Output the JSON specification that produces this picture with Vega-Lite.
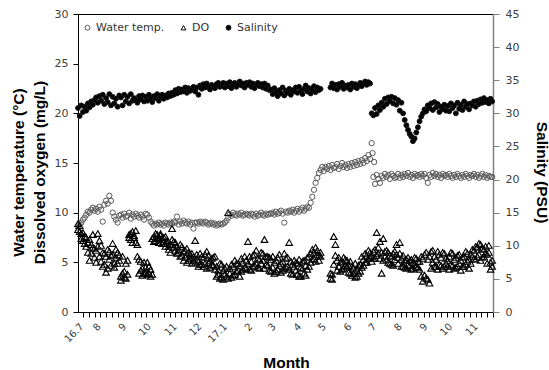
{
  "$schema": "https://vega.github.io/schema/vega-lite/v6.json",
  "width": 415,
  "height": 298,
  "autosize": {"type": "none"},
  "padding": {"left": 78, "top": 14, "right": 56, "bottom": 58},
  "config": {
    "font": "DejaVu Sans",
    "view": {"stroke": null},
    "axis": {"grid": false, "labelFont": "DejaVu Sans", "labelColor": "#404040", "titleFont": "Liberation Sans", "titleFontWeight": "bold", "titleFontSize": 15.5, "titleColor": "#000000"},
    "legend": {"orient": "none", "legendX": 4, "legendY": 8, "direction": "horizontal", "title": null, "labelFont": "DejaVu Sans", "labelFontSize": 11, "labelColor": "#333333", "symbolSize": 24, "symbolStrokeWidth": 1, "labelOffset": 3, "columnPadding": 13, "symbolOpacity": 1}
  },
  "data": {"values": [
    {"d":"2016-07-11","t":8.5,"o":8.3,"p":8.9,"s":30.8},{"d":"2016-07-13","t":8.8,"o":8.7,"p":8.1,"s":29.6},{"d":"2016-07-15","t":9.0,"o":7.9,"p":7.4,"s":31.2},{"d":"2016-07-17","t":9.3,"o":7.2,"p":8.0,"s":30.2},{"d":"2016-07-19","t":9.5,"o":7.6,"p":6.9,"s":31.0},{"d":"2016-07-21","t":9.8,"o":6.6,"p":7.5,"s":30.4},{"d":"2016-07-23","t":10.1,"o":7.0,"p":6.0,"s":31.5},{"d":"2016-07-25","t":10.0,"o":5.2,"p":7.3,"s":30.9},{"d":"2016-07-27","t":10.3,"o":6.8,"p":5.9,"s":31.8},{"d":"2016-07-29","t":10.5,"o":7.8,"p":6.5,"s":31.3},{"d":"2016-07-31","t":10.2,"o":6.4,"p":5.5,"s":32.0},
    {"d":"2016-08-02","t":10.4,"o":6.2,"p":5.0,"s":32.4},{"d":"2016-08-04","t":10.1,"o":7.9,"p":6.6,"s":31.6},{"d":"2016-08-06","t":10.6,"o":5.6,"p":7.2,"s":32.6},{"d":"2016-08-08","t":10.3,"o":6.7,"p":5.1,"s":31.9},{"d":"2016-08-10","t":9.1,"o":4.6,"p":6.0,"s":32.8},{"d":"2016-08-12","t":10.8,"o":5.9,"p":4.8,"s":31.4},{"d":"2016-08-14","t":11.2,"o":4.0,"p":5.6,"s":32.3},{"d":"2016-08-16","t":10.9,"o":6.3,"p":4.4,"s":31.7},{"d":"2016-08-18","t":11.7,"o":5.3,"p":6.1,"s":32.9},{"d":"2016-08-20","t":11.2,"o":5.7,"p":4.7,"s":31.2},{"d":"2016-08-22","t":10.0,"o":6.9,"p":5.8,"s":32.5},{"d":"2016-08-24","t":9.6,"o":4.9,"p":4.5,"s":31.5},{"d":"2016-08-26","t":9.3,"o":5.5,"p":6.3,"s":32.2},{"d":"2016-08-28","t":9.0,"o":6.0,"p":4.9,"s":31.0},{"d":"2016-08-30","t":9.7,"o":5.2,"p":5.7,"s":32.7},
    {"d":"2016-09-01","t":9.8,"o":3.2,"p":3.6,"s":32.4},{"d":"2016-09-03","t":9.5,"o":5.6,"p":3.9,"s":31.2},{"d":"2016-09-05","t":9.9,"o":3.5,"p":4.1,"s":32.8},{"d":"2016-09-07","t":9.6,"o":4.9,"p":3.4,"s":31.8},{"d":"2016-09-09","t":9.7,"o":3.8,"p":5.2,"s":32.5},{"d":"2016-09-11","t":10.0,"o":7.8,"p":7.5,"s":31.5},{"d":"2016-09-13","t":9.4,"o":7.3,"p":7.9,"s":32.9},{"d":"2016-09-15","t":9.8,"o":8.1,"p":7.0,"s":31.9},{"d":"2016-09-17","t":9.6,"o":7.5,"p":7.7,"s":32.3},{"d":"2016-09-19","t":9.9,"o":7.0,"p":8.2,"s":32.0},{"d":"2016-09-21","t":9.7,"o":6.8,"p":5.6,"s":31.6},{"d":"2016-09-23","t":9.5,"o":5.3,"p":3.9,"s":32.6},{"d":"2016-09-25","t":9.8,"o":4.2,"p":5.1,"s":32.1},{"d":"2016-09-27","t":9.6,"o":3.7,"p":4.4,"s":32.7},{"d":"2016-09-29","t":9.3,"o":5.0,"p":3.9,"s":31.8},
    {"d":"2016-10-01","t":9.9,"o":4.0,"p":4.5,"s":32.5},{"d":"2016-10-03","t":9.8,"o":3.8,"p":5.0,"s":31.9},{"d":"2016-10-05","t":9.5,"o":4.6,"p":3.9,"s":32.8},{"d":"2016-10-07","t":9.1,"o":3.6,"p":4.3,"s":32.2},{"d":"2016-10-09","t":8.9,"o":7.4,"p":3.8,"s":31.7},{"d":"2016-10-11","t":8.7,"o":7.6,"p":7.1,"s":32.6},{"d":"2016-10-13","t":8.9,"o":7.2,"p":7.9,"s":32.3},{"d":"2016-10-15","t":8.8,"o":7.8,"p":7.4,"s":32.9},{"d":"2016-10-17","t":9.0,"o":7.5,"p":7.0,"s":31.9},{"d":"2016-10-19","t":8.8,"o":7.9,"p":7.7,"s":32.5},{"d":"2016-10-21","t":8.9,"o":7.3,"p":6.9,"s":32.8},{"d":"2016-10-23","t":8.7,"o":7.1,"p":7.5,"s":32.2},{"d":"2016-10-25","t":9.0,"o":7.6,"p":6.6,"s":32.7},{"d":"2016-10-27","t":8.9,"o":6.9,"p":7.2,"s":32.4},{"d":"2016-10-29","t":8.8,"o":6.6,"p":6.3,"s":33.0},{"d":"2016-10-31","t":9.0,"o":6.8,"p":6.0,"s":32.6},
    {"d":"2016-11-02","t":8.9,"o":8.4,"p":7.3,"s":33.1},{"d":"2016-11-04","t":9.1,"o":6.5,"p":7.1,"s":32.8},{"d":"2016-11-06","t":9.0,"o":7.0,"p":6.2,"s":33.5},{"d":"2016-11-08","t":9.6,"o":5.9,"p":6.6,"s":33.0},{"d":"2016-11-10","t":8.8,"o":6.3,"p":6.0,"s":33.7},{"d":"2016-11-12","t":9.1,"o":6.8,"p":5.6,"s":33.2},{"d":"2016-11-14","t":8.9,"o":5.7,"p":6.6,"s":33.6},{"d":"2016-11-16","t":9.2,"o":6.1,"p":5.2,"s":33.3},{"d":"2016-11-18","t":9.0,"o":5.5,"p":6.2,"s":33.9},{"d":"2016-11-20","t":8.9,"o":6.4,"p":5.0,"s":33.1},{"d":"2016-11-22","t":9.1,"o":5.2,"p":6.0,"s":33.8},{"d":"2016-11-24","t":8.8,"o":5.8,"p":5.4,"s":33.4},{"d":"2016-11-26","t":9.0,"o":4.9,"p":5.9,"s":33.6},{"d":"2016-11-28","t":8.4,"o":5.6,"p":5.2,"s":34.0},{"d":"2016-11-30","t":9.0,"o":7.2,"p":5.0,"s":33.3},
    {"d":"2016-12-02","t":9.0,"o":5.3,"p":5.8,"s":33.9},{"d":"2016-12-04","t":8.9,"o":4.6,"p":5.1,"s":32.8},{"d":"2016-12-06","t":9.1,"o":5.9,"p":4.8,"s":34.2},{"d":"2016-12-08","t":9.0,"o":4.8,"p":5.6,"s":33.7},{"d":"2016-12-10","t":8.9,"o":5.5,"p":4.6,"s":34.4},{"d":"2016-12-12","t":9.1,"o":4.9,"p":5.8,"s":33.9},{"d":"2016-12-14","t":9.0,"o":6.1,"p":4.4,"s":34.5},{"d":"2016-12-16","t":8.8,"o":5.0,"p":5.7,"s":34.0},{"d":"2016-12-18","t":8.9,"o":4.5,"p":5.2,"s":33.6},{"d":"2016-12-20","t":9.0,"o":5.4,"p":4.8,"s":34.3},{"d":"2016-12-22","t":8.8,"o":4.7,"p":5.5,"s":34.1},{"d":"2016-12-24","t":8.9,"o":5.6,"p":4.3,"s":33.8},{"d":"2016-12-26","t":8.7,"o":3.6,"p":4.6,"s":34.4},{"d":"2016-12-28","t":8.8,"o":4.2,"p":3.8,"s":34.6},{"d":"2016-12-30","t":8.9,"o":3.4,"p":4.9,"s":34.0},
    {"d":"2017-01-01","t":8.8,"o":4.8,"p":3.5,"s":34.2},{"d":"2017-01-03","t":8.9,"o":3.3,"p":4.2,"s":34.6},{"d":"2017-01-05","t":9.0,"o":4.4,"p":3.8,"s":33.9},{"d":"2017-01-07","t":9.2,"o":3.6,"p":4.6,"s":34.5},{"d":"2017-01-09","t":9.5,"o":10.0,"p":3.4,"s":34.1},{"d":"2017-01-11","t":9.8,"o":3.9,"p":4.4,"s":34.7},{"d":"2017-01-13","t":9.7,"o":3.5,"p":4.8,"s":33.8},{"d":"2017-01-15","t":10.0,"o":4.6,"p":3.7,"s":34.3},{"d":"2017-01-17","t":9.8,"o":3.8,"p":5.2,"s":34.6},{"d":"2017-01-19","t":9.7,"o":4.9,"p":4.1,"s":34.0},{"d":"2017-01-21","t":9.9,"o":4.2,"p":4.9,"s":34.4},{"d":"2017-01-23","t":9.8,"o":4.7,"p":3.6,"s":34.8},{"d":"2017-01-25","t":10.0,"o":4.1,"p":5.4,"s":34.2},{"d":"2017-01-27","t":9.7,"o":5.0,"p":4.3,"s":34.5},{"d":"2017-01-29","t":9.8,"o":4.5,"p":5.6,"s":33.9},{"d":"2017-01-31","t":9.9,"o":5.2,"p":4.4,"s":34.6},
    {"d":"2017-02-02","t":9.8,"o":7.1,"p":4.9,"s":34.3},{"d":"2017-02-04","t":9.7,"o":4.3,"p":5.6,"s":34.7},{"d":"2017-02-06","t":9.9,"o":5.1,"p":4.2,"s":34.0},{"d":"2017-02-08","t":9.8,"o":4.6,"p":5.7,"s":34.5},{"d":"2017-02-10","t":9.6,"o":5.8,"p":4.7,"s":33.8},{"d":"2017-02-12","t":9.9,"o":4.9,"p":6.2,"s":34.3},{"d":"2017-02-14","t":9.7,"o":5.4,"p":4.5,"s":34.6},{"d":"2017-02-16","t":9.8,"o":4.4,"p":5.3,"s":34.1},{"d":"2017-02-18","t":10.0,"o":6.0,"p":4.9,"s":34.4},{"d":"2017-02-20","t":9.8,"o":5.2,"p":5.9,"s":33.9},{"d":"2017-02-22","t":9.7,"o":7.3,"p":4.4,"s":34.5},{"d":"2017-02-24","t":9.9,"o":4.8,"p":5.6,"s":33.7},{"d":"2017-02-26","t":9.8,"o":5.6,"p":4.7,"s":34.2},{"d":"2017-02-28","t":9.9,"o":4.2,"p":5.5,"s":33.5},
    {"d":"2017-03-02","t":9.9,"o":5.3,"p":4.1,"s":33.6},{"d":"2017-03-04","t":10.0,"o":4.5,"p":5.6,"s":32.9},{"d":"2017-03-06","t":9.8,"o":5.0,"p":3.9,"s":33.8},{"d":"2017-03-08","t":10.1,"o":4.1,"p":5.2,"s":33.2},{"d":"2017-03-10","t":9.9,"o":5.5,"p":4.3,"s":32.6},{"d":"2017-03-12","t":10.0,"o":4.7,"p":5.8,"s":33.5},{"d":"2017-03-14","t":10.2,"o":4.0,"p":4.9,"s":33.0},{"d":"2017-03-16","t":9.9,"o":5.1,"p":4.2,"s":33.9},{"d":"2017-03-18","t":9.0,"o":4.4,"p":5.9,"s":32.7},{"d":"2017-03-20","t":10.1,"o":5.4,"p":4.5,"s":33.4},{"d":"2017-03-22","t":10.0,"o":4.6,"p":5.5,"s":33.1},{"d":"2017-03-24","t":10.2,"o":7.0,"p":4.3,"s":33.7},{"d":"2017-03-26","t":10.1,"o":3.9,"p":5.1,"s":32.8},{"d":"2017-03-28","t":10.3,"o":4.8,"p":3.8,"s":33.5},{"d":"2017-03-30","t":10.0,"o":5.2,"p":4.6,"s":33.3},
    {"d":"2017-04-01","t":10.2,"o":4.2,"p":5.0,"s":33.9},{"d":"2017-04-03","t":10.4,"o":4.9,"p":3.8,"s":33.1},{"d":"2017-04-05","t":10.1,"o":3.6,"p":5.3,"s":34.0},{"d":"2017-04-07","t":10.3,"o":4.5,"p":3.6,"s":33.4},{"d":"2017-04-09","t":10.5,"o":5.1,"p":4.4,"s":32.9},{"d":"2017-04-11","t":10.2,"o":3.9,"p":5.2,"s":33.7},{"d":"2017-04-13","t":10.4,"o":4.7,"p":3.7,"s":34.2},{"d":"2017-04-15","t":10.6,"o":4.3,"p":5.5,"s":33.3},{"d":"2017-04-17","t":10.5,"o":5.6,"p":4.6,"s":33.8},{"d":"2017-04-19","t":11.0,"o":5.0,"p":5.9,"s":33.0},{"d":"2017-04-21","t":11.6,"o":6.3,"p":5.3,"s":33.6},{"d":"2017-04-23","t":12.3,"o":5.4,"p":6.0,"s":34.1},{"d":"2017-04-25","t":13.0,"o":6.5,"p":5.1,"s":33.2},{"d":"2017-04-27","t":13.5,"o":5.8,"p":6.2,"s":33.9},{"d":"2017-04-29","t":14.0,"o":5.2,"p":5.7,"s":33.5},
    {"d":"2017-05-01","t":14.3,"o":6.0,"p":5.6,"s":33.7},{"d":"2017-05-03","t":14.6},{"d":"2017-05-05","t":14.2},{"d":"2017-05-07","t":14.6},{"d":"2017-05-09","t":14.4},{"d":"2017-05-11","t":14.7},{"d":"2017-05-13","t":14.3,"o":3.4,"p":3.9,"s":33.9},{"d":"2017-05-15","t":14.8,"o":3.8,"p":3.3,"s":34.5},{"d":"2017-05-17","t":14.5,"o":7.6,"p":4.8,"s":33.8},{"d":"2017-05-19","t":14.6,"o":6.8,"p":5.7,"s":34.3},{"d":"2017-05-21","t":14.9,"o":5.2,"p":4.2,"s":33.6},{"d":"2017-05-23","t":14.4,"o":4.6,"p":5.5,"s":34.4},{"d":"2017-05-25","t":14.7,"o":5.0,"p":4.1,"s":34.0},{"d":"2017-05-27","t":15.0,"o":4.3,"p":5.1,"s":34.6},{"d":"2017-05-29","t":14.6,"o":5.5,"p":4.4,"s":33.7},{"d":"2017-05-31","t":14.8,"o":4.7,"p":5.3,"s":34.2},
    {"d":"2017-06-02","t":14.5,"o":4.6,"p":5.2,"s":33.9},{"d":"2017-06-04","t":14.9,"o":4.0,"p":4.7,"s":34.3},{"d":"2017-06-06","t":14.6,"o":5.1,"p":3.9,"s":33.6},{"d":"2017-06-08","t":15.0,"o":3.7,"p":4.6,"s":34.5},{"d":"2017-06-10","t":14.7,"o":4.4,"p":3.9,"s":34.0},{"d":"2017-06-12","t":15.1,"o":3.5,"p":4.9,"s":34.4},{"d":"2017-06-14","t":14.8,"o":4.2,"p":3.6,"s":33.8},{"d":"2017-06-16","t":15.2,"o":3.9,"p":4.7,"s":34.2},{"d":"2017-06-18","t":14.9,"o":4.8,"p":4.1,"s":34.6},{"d":"2017-06-20","t":15.3,"o":4.5,"p":5.6,"s":34.1},{"d":"2017-06-22","t":15.0,"o":5.3,"p":4.7,"s":34.5},{"d":"2017-06-24","t":15.5,"o":5.0,"p":5.9,"s":34.8},{"d":"2017-06-26","t":15.2,"o":5.7,"p":5.0,"s":34.3},{"d":"2017-06-28","t":15.8,"o":5.4,"p":6.2,"s":34.7},{"d":"2017-06-30","t":15.4,"o":6.0,"p":5.5,"s":34.5},
    {"d":"2017-07-02","t":17.0,"o":5.6,"p":5.1,"s":30.0},{"d":"2017-07-03","t":16.0},{"d":"2017-07-04","t":13.6,"o":6.1,"p":5.4,"s":29.7},{"d":"2017-07-05","t":15.1},{"d":"2017-07-06","t":12.9,"o":5.4,"p":6.3,"s":30.8},{"d":"2017-07-08","t":13.8,"o":8.0,"p":5.7,"s":29.9},{"d":"2017-07-10","t":13.4,"o":5.9,"p":6.5,"s":31.2},{"d":"2017-07-12","t":13.0,"o":7.1,"p":5.4,"s":30.5},{"d":"2017-07-14","t":13.7,"o":3.9,"p":6.0,"s":31.6},{"d":"2017-07-16","t":13.5,"o":7.4,"p":5.2,"s":31.0},{"d":"2017-07-18","t":13.9,"o":5.6,"p":6.1,"s":32.2},{"d":"2017-07-20","t":13.6,"o":6.2,"p":5.3,"s":31.4},{"d":"2017-07-22","t":13.8,"o":5.0,"p":6.0,"s":32.4},{"d":"2017-07-24","t":13.4,"o":5.7,"p":4.9,"s":31.8},{"d":"2017-07-26","t":13.9,"o":4.8,"p":5.6,"s":32.5},{"d":"2017-07-28","t":13.7,"o":5.9,"p":4.7,"s":31.5},{"d":"2017-07-30","t":13.5,"o":5.3,"p":6.1,"s":32.3},
    {"d":"2017-08-01","t":13.6,"o":6.8,"p":5.8,"s":31.3},{"d":"2017-08-03","t":13.9,"o":4.9,"p":5.5,"s":32.0},{"d":"2017-08-05","t":13.5,"o":7.0,"p":5.9,"s":30.4},{"d":"2017-08-07","t":13.8,"o":5.3,"p":4.6,"s":31.6},{"d":"2017-08-09","t":13.6,"o":4.6,"p":5.7,"s":30.0},{"d":"2017-08-11","t":13.9,"o":5.2,"p":4.5,"s":29.0},{"d":"2017-08-13","t":13.7,"o":4.4,"p":5.3,"s":28.2},{"d":"2017-08-15","t":14.0,"o":5.5,"p":4.8,"s":27.5},{"d":"2017-08-17","t":13.6,"o":4.7,"p":5.2,"s":26.9},{"d":"2017-08-19","t":13.8,"o":4.3,"p":5.3,"s":26.5},{"d":"2017-08-21","t":13.5,"o":5.0,"p":4.4,"s":25.8},{"d":"2017-08-23","t":13.9,"o":4.8,"p":5.5,"s":26.2},{"d":"2017-08-25","t":13.7,"o":5.4,"p":4.6,"s":27.1},{"d":"2017-08-27","t":13.8,"o":4.5,"p":5.1,"s":27.9},{"d":"2017-08-29","t":13.6,"o":5.1,"p":4.3,"s":28.8},{"d":"2017-08-31","t":13.9,"o":3.6,"p":5.6,"s":29.5},
    {"d":"2017-09-02","t":13.7,"o":3.1,"p":5.4,"s":30.0},{"d":"2017-09-04","t":13.9,"o":5.8,"p":3.7,"s":30.6},{"d":"2017-09-06","t":13.5,"o":3.4,"p":6.0,"s":30.3},{"d":"2017-09-08","t":13.0,"o":5.3,"p":3.3,"s":31.2},{"d":"2017-09-10","t":13.8,"o":2.9,"p":5.6,"s":30.8},{"d":"2017-09-12","t":13.6,"o":6.1,"p":4.4,"s":31.5},{"d":"2017-09-14","t":14.0,"o":5.0,"p":6.2,"s":30.5},{"d":"2017-09-16","t":13.7,"o":5.6,"p":4.6,"s":31.7},{"d":"2017-09-18","t":13.9,"o":4.6,"p":5.3,"s":30.9},{"d":"2017-09-20","t":13.6,"o":6.1,"p":4.3,"s":31.4},{"d":"2017-09-22","t":13.8,"o":4.8,"p":5.8,"s":30.2},{"d":"2017-09-24","t":13.5,"o":5.5,"p":4.7,"s":31.0},{"d":"2017-09-26","t":13.9,"o":4.4,"p":6.0,"s":30.6},{"d":"2017-09-28","t":13.7,"o":5.9,"p":4.6,"s":31.3},{"d":"2017-09-30","t":13.8,"o":4.9,"p":5.4,"s":30.4},
    {"d":"2017-10-02","t":13.6,"o":5.2,"p":4.6,"s":31.1},{"d":"2017-10-04","t":13.9,"o":4.3,"p":5.6,"s":30.3},{"d":"2017-10-06","t":13.7,"o":6.0,"p":4.8,"s":31.5},{"d":"2017-10-08","t":13.5,"o":4.7,"p":5.9,"s":30.8},{"d":"2017-10-10","t":13.8,"o":5.3,"p":4.4,"s":31.2},{"d":"2017-10-12","t":13.6,"o":4.5,"p":5.5,"s":30.0},{"d":"2017-10-14","t":13.9,"o":5.7,"p":4.6,"s":31.6},{"d":"2017-10-16","t":13.7,"o":4.9,"p":5.8,"s":30.7},{"d":"2017-10-18","t":13.5,"o":4.2,"p":5.2,"s":31.3},{"d":"2017-10-20","t":13.8,"o":5.5,"p":4.6,"s":30.5},{"d":"2017-10-22","t":13.6,"o":4.6,"p":5.6,"s":31.8},{"d":"2017-10-24","t":13.9,"o":6.1,"p":4.8,"s":31.0},{"d":"2017-10-26","t":13.7,"o":5.1,"p":5.9,"s":31.4},{"d":"2017-10-28","t":13.5,"o":4.4,"p":5.3,"s":30.6},{"d":"2017-10-30","t":13.8,"o":5.8,"p":4.9,"s":31.5},
    {"d":"2017-11-01","t":13.7,"o":5.6,"p":6.3,"s":31.2},{"d":"2017-11-03","t":13.9,"o":6.2,"p":5.4,"s":31.8},{"d":"2017-11-05","t":13.6,"o":5.3,"p":6.6,"s":31.0},{"d":"2017-11-07","t":13.8,"o":6.5,"p":5.6,"s":31.9},{"d":"2017-11-09","t":13.5,"o":5.8,"p":6.9,"s":31.4},{"d":"2017-11-11","t":13.7,"o":6.8,"p":5.2,"s":32.1},{"d":"2017-11-13","t":13.9,"o":5.5,"p":6.4,"s":31.6},{"d":"2017-11-15","t":13.6,"o":6.3,"p":5.6,"s":32.3},{"d":"2017-11-17","t":13.8,"o":5.9,"p":6.6,"s":31.7},{"d":"2017-11-19","t":13.5,"o":4.9,"p":5.8,"s":32.0},{"d":"2017-11-21","t":13.7,"o":6.0,"p":6.7,"s":31.5},{"d":"2017-11-23","t":13.6,"o":4.3,"p":5.0,"s":32.2},{"d":"2017-11-25","t":13.6,"o":5.2,"p":4.6,"s":31.8}
  ]},
  "layer": [
    {
      "mark": {"type": "point", "filled": true, "strokeWidth": 1, "size": 28, "opacity": 1},
      "encoding": {
        "x": {"field": "d", "type": "temporal",
          "scale": {"type": "utc", "domain": [{"year": 2016, "month": 7, "date": 11, "utc": true}, {"year": 2017, "month": 11, "date": 26, "utc": true}]},
          "axis": {"orient": "bottom", "title": "Month", "titleX": 208, "titleY": 55, "titleBaseline": "alphabetic", "titleAnchor": null, "ticks": false, "domain": false, "labelAngle": -45, "labelAlign": "right", "labelBaseline": "top", "labelPadding": 9, "labelFontSize": 10, "labelColor": "#404040", "labelFlush": false, "labelOverlap": false,
            "values": [{"year":2016,"month":7,"date":11,"utc":true},{"year":2016,"month":8,"date":1,"utc":true},{"year":2016,"month":9,"date":1,"utc":true},{"year":2016,"month":10,"date":1,"utc":true},{"year":2016,"month":11,"date":1,"utc":true},{"year":2016,"month":12,"date":1,"utc":true},{"year":2017,"month":1,"date":1,"utc":true},{"year":2017,"month":2,"date":1,"utc":true},{"year":2017,"month":3,"date":1,"utc":true},{"year":2017,"month":4,"date":1,"utc":true},{"year":2017,"month":5,"date":1,"utc":true},{"year":2017,"month":6,"date":1,"utc":true},{"year":2017,"month":7,"date":1,"utc":true},{"year":2017,"month":8,"date":1,"utc":true},{"year":2017,"month":9,"date":1,"utc":true},{"year":2017,"month":10,"date":1,"utc":true},{"year":2017,"month":11,"date":1,"utc":true}],
            "labelExpr": "(utcmonth(datum.value) == 0 || (utcyear(datum.value) == 2016 && utcmonth(datum.value) == 6)) ? utcFormat(datum.value, '%y') + '.' + (utcmonth(datum.value) + 1) : '' + (utcmonth(datum.value) + 1)"}},
        "y": {"field": "t", "type": "quantitative",
          "scale": {"domain": [0, 30], "nice": false, "zero": true},
          "axis": {"orient": "left", "values": [0, 5, 10, 15, 20, 25, 30], "tickSize": 5, "tickColor": "#000000", "domainColor": "#000000", "labelFontSize": 11, "labelPadding": 5,
            "title": ["Water temperature (°C)", "Dissolved oxygen (mg/L)"], "titleAngle": -90, "titleX": -67, "titleY": 158, "titleAlign": "center", "titleBaseline": "top", "titleLineHeight": 21}},
        "shape": {"datum": "Water temp.", "type": "nominal",
          "scale": {"domain": ["Water temp.", "DO", "Salinity"], "range": ["circle", "triangle-up", "circle"]}},
        "fill": {"datum": "Water temp.", "type": "nominal",
          "scale": {"domain": ["Water temp.", "DO", "Salinity"], "range": ["transparent", "transparent", "#000000"]}},
        "stroke": {"datum": "Water temp.", "type": "nominal",
          "scale": {"domain": ["Water temp.", "DO", "Salinity"], "range": ["#5a5a5a", "#000000", "#111111"]}}
      }
    },
    {
      "mark": {"type": "point", "filled": true, "strokeWidth": 1.1, "size": 44, "opacity": 1},
      "encoding": {
        "x": {"field": "d", "type": "temporal",
          "axis": {"orient": "bottom", "title": null, "labels": false, "ticks": true, "tickSize": 5, "tickColor": "#000000", "domain": true, "domainColor": "#000000", "tickCount": {"interval": "week", "step": 1}}},
        "y": {"field": "o", "type": "quantitative", "scale": {"domain": [0, 30], "nice": false}, "axis": null},
        "shape": {"datum": "DO", "type": "nominal"},
        "fill": {"datum": "DO", "type": "nominal"},
        "stroke": {"datum": "DO", "type": "nominal"}
      }
    },
    {
      "mark": {"type": "point", "filled": true, "strokeWidth": 1.1, "size": 44, "opacity": 1},
      "encoding": {
        "x": {"field": "d", "type": "temporal", "axis": null},
        "y": {"field": "p", "type": "quantitative", "scale": {"domain": [0, 30], "nice": false}, "axis": null},
        "shape": {"datum": "DO", "type": "nominal"},
        "fill": {"datum": "DO", "type": "nominal"},
        "stroke": {"datum": "DO", "type": "nominal"}
      }
    },
    {
      "mark": {"type": "point", "filled": true, "strokeWidth": 1, "size": 24, "opacity": 1},
      "encoding": {
        "x": {"field": "d", "type": "temporal",
          "axis": {"orient": "top", "title": null, "labels": false, "ticks": false, "domain": true, "domainColor": "#000000"}},
        "y": {"field": "s", "type": "quantitative",
          "scale": {"domain": [0, 45], "nice": false},
          "axis": {"orient": "right", "values": [0, 5, 10, 15, 20, 25, 30, 35, 40, 45], "tickSize": 6, "tickColor": "#808080", "domainColor": "#808080", "domainWidth": 1.5, "labelFontSize": 11, "labelPadding": 6,
            "title": "Salinity (PSU)", "titleAngle": 90, "titleX": 48, "titleY": 158, "titleAlign": "center", "titleBaseline": "middle"}},
        "shape": {"datum": "Salinity", "type": "nominal"},
        "fill": {"datum": "Salinity", "type": "nominal"},
        "stroke": {"datum": "Salinity", "type": "nominal"}
      }
    }
  ],
  "resolve": {"scale": {"y": "independent"}, "axis": {"x": "independent"}}
}
